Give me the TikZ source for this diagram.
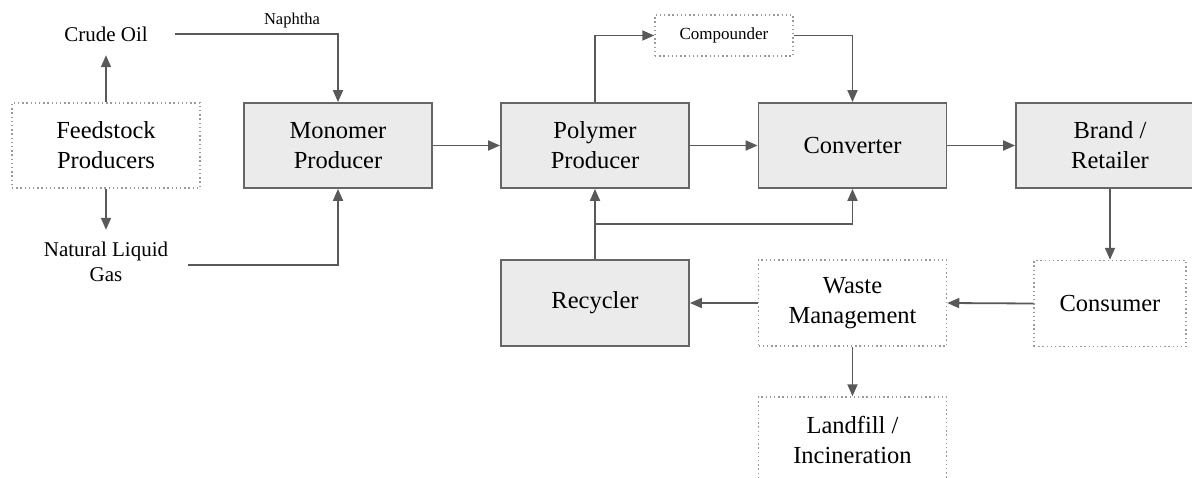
\documentclass[tikz,border=0pt]{standalone}
\usepackage{fontspec}
\setmainfont{LiberationSerif}[Extension=.ttf, UprightFont=*-Regular, BoldFont=*-Bold]
\usetikzlibrary{arrows.meta,calc}
\definecolor{boxfill}{HTML}{EBEBEB}
\definecolor{boxline}{HTML}{666666}
\definecolor{flow}{HTML}{595959}
\definecolor{dotline}{HTML}{9A9A9A}
\begin{document}
\begin{tikzpicture}[x=1pt,y=-1pt,
  solidbox/.style={draw=boxline, line width=1.8pt, fill=boxfill, rectangle,
    minimum width=188pt, minimum height=85pt, align=center, inner sep=0pt,
    font=\fontsize{24.5}{30}\selectfont},
  dotbox/.style={draw=dotline, line width=1.5pt, dash pattern=on 1.4pt off 2.8pt,
    rectangle, minimum width=188pt, minimum height=85pt, align=center, inner sep=0pt,
    font=\fontsize{24.5}{30}\selectfont},
  plain/.style={align=center, inner sep=0pt, font=\fontsize{21}{25}\selectfont},
  arr/.style={draw=flow, line width=1.8pt,
    -{Triangle[length=12pt,width=10pt]}},
  link/.style={draw=flow, line width=1.8pt}]
  \useasboundingbox (0,0) rectangle (1192,477);

  % feedstock side
  \node[dotbox] (feed) at (106,145.5) {Feedstock\\Producers};
  \node[plain, minimum width=138pt, minimum height=42pt] (crude) at (106,34) {Crude Oil};
  \node[plain, minimum width=164pt, minimum height=64pt] (gas) at (106,262) {Natural Liquid\\Gas};
  \node[inner sep=0pt, font=\fontsize{16.5}{20}\selectfont] (naphtha) at (292,21) {Naphtha};

  % main chain
  \node[solidbox] (mono) at (338,145.5) {Monomer\\Producer};
  \node[solidbox] (poly) at (595,145.5) {Polymer\\Producer};
  \node[solidbox] (conv) at (852.5,145.5) {Converter};
  \node[solidbox] (brand) at (1110,145.5) {Brand /\\Retailer};
  \node[dotbox, minimum width=138pt, minimum height=41pt,
    font=\fontsize{17}{20}\selectfont] (comp) at (724,35.5) {Compounder};

  % end of life
  \node[dotbox, minimum width=152pt, minimum height=86pt] (cons) at (1110,303.5) {Consumer};
  \node[dotbox, minimum height=86pt] (waste) at (852.5,303) {Waste\\Management};
  \node[solidbox, minimum height=86pt] (rec) at (595,303) {Recycler};
  \node[dotbox, minimum height=86pt] (land) at (852.5,440) {Landfill /\\Incineration};

  \coordinate (split) at ($(rec.north)!0.5!(poly.south)$);

  % feedstock flows
  \draw[arr] (feed.north) -- (crude.south);
  \draw[arr] (feed.south) -- (gas.north);
  \draw[arr] (crude.east) -| (mono.north);
  \draw[arr] ([yshift=-3pt]gas.east) -| (mono.south);

  % production flows
  \draw[arr] (mono.east) -- (poly.west);
  \draw[arr] (poly.east) -- (conv.west);
  \draw[arr] (conv.east) -- (brand.west);
  \draw[arr] (poly.north) |- (comp.west);
  \draw[arr] (comp.east) -| (conv.north);

  % consumption and waste flows
  \draw[arr] (brand.south) -- (cons.north);
  \draw[arr] (cons.west) -- (waste.east);
  \draw[arr] (waste.west) -- (rec.east);
  \draw[arr] (waste.south) -- (land.north);

  % recycled material back into production
  \draw[arr] (rec.north) -- (poly.south);
  \draw[arr] (split) -| (conv.south);
\end{tikzpicture}
\end{document}
